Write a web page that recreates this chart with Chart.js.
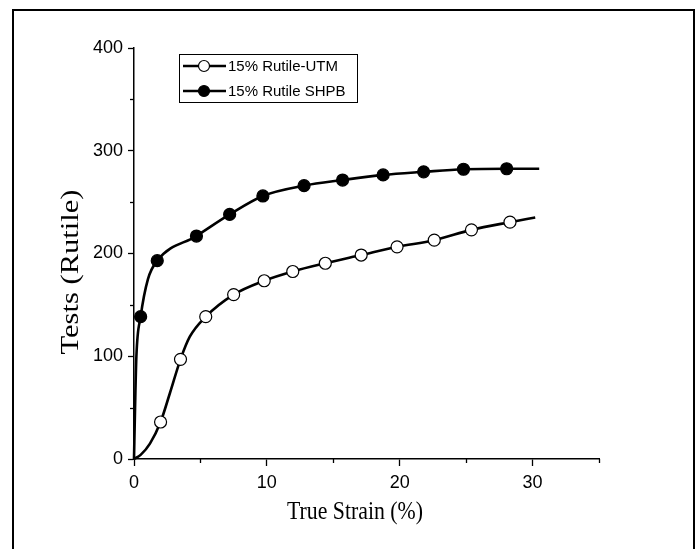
<!DOCTYPE html>
<html>
<head>
<meta charset="utf-8">
<script src="https://cdn.jsdelivr.net/npm/chart.js@4.4.1/dist/chart.umd.min.js"></script>
<style>
  html, body { margin: 0; padding: 0; background: #fff; }
  #wrap { width: 699px; height: 549px; position: relative; }
</style>
</head>
<body>
<div id="wrap"><canvas id="c" width="699" height="549"></canvas></div>
<script>
// ---- data ----
const xTitle = 'True Strain (%)';
const yTitle = 'Tests (Rutile)';
const seriesNames = ['15% Rutile-UTM', '15% Rutile SHPB'];

// UTM curve: strain (%), value, marker shown (1) or curve-only point (0)
const utmX = [0, 0.5, 1.2, 2.0, 2.7, 3.5, 4.2, 5.4, 7.5, 9.8, 11.95, 14.4, 17.1, 19.8, 22.6, 25.4, 28.3, 30.2];
const utmY = [0, 4, 15, 36, 64, 97, 119, 138.5, 160, 173.5, 182.5, 190.5, 198.5, 206.5, 213, 223, 230.5, 235];
const utmMark = [0, 0, 0, 1, 0, 1, 0, 1, 1, 1, 1, 1, 1, 1, 1, 1, 1, 0];

// SHPB curve
const shpbX = [0, 0.08, 0.18, 0.5, 1.05, 1.75, 4.7, 7.2, 9.7, 12.8, 15.7, 18.75, 21.8, 24.8, 28.05, 30.5];
const shpbY = [0, 50, 100, 138.5, 175, 193, 217, 238, 256, 266, 271.5, 276.5, 279.5, 282, 282.5, 282.5];
const shpbMark = [0, 0, 0, 1, 0, 1, 1, 1, 1, 1, 1, 1, 1, 1, 1, 0];

const xMin = 0, xMax = 35, xStep = 5, xLabelEvery = 10;
const yMin = 0, yMax = 400, yStep = 50, yLabelEvery = 100;

const toPts = (xs, ys) => xs.map((x, i) => ({ x: x, y: ys[i] }));
const isMajor = (v, every) => Math.abs(v / every - Math.round(v / every)) < 1e-6;

const minorTicks = {
  id: 'minorTicks',
  afterDraw(chart) {
    const ctx = chart.ctx;
    const xs = chart.scales.x, ys = chart.scales.y;
    ctx.save();
    ctx.strokeStyle = '#000';
    ctx.lineWidth = 1.3;
    xs.ticks.forEach(t => {
      if (!isMajor(t.value, xLabelEvery)) {
        const px = Math.round(xs.getPixelForValue(t.value)) + 0.5;
        ctx.beginPath(); ctx.moveTo(px, ys.bottom); ctx.lineTo(px, ys.bottom + 4); ctx.stroke();
      }
    });
    ys.ticks.forEach(t => {
      if (!isMajor(t.value, yLabelEvery)) {
        const py = Math.round(ys.getPixelForValue(t.value)) + 0.5;
        ctx.beginPath(); ctx.moveTo(xs.left, py); ctx.lineTo(xs.left - 4, py); ctx.stroke();
      }
    });
    ctx.restore();
  }
};

function fitText(ctx, text, len) {
  const w = ctx.measureText(text).width;
  return len / w;
}

const frameAndTitles = {
  id: 'frameAndTitles',
  beforeDraw(chart) {
    const ctx = chart.ctx;
    ctx.save();
    ctx.fillStyle = '#fff';
    ctx.fillRect(0, 0, chart.width, chart.height);
    ctx.strokeStyle = '#000';
    ctx.lineWidth = 2;
    ctx.strokeRect(13, 10, 681, 560);
    ctx.restore();
  },
  afterDraw(chart) {
    const ctx = chart.ctx;
    // axis titles
    ctx.save();
    ctx.fillStyle = '#000';
    ctx.font = '25px "Liberation Serif", "Times New Roman", serif';
    ctx.textAlign = 'center';
    ctx.textBaseline = 'alphabetic';
    ctx.save();
    ctx.translate(355, 519);
    ctx.scale(fitText(ctx, xTitle, 136), 1);
    ctx.fillText(xTitle, 0, 0);
    ctx.restore();
    ctx.save();
    ctx.translate(78, 272);
    ctx.rotate(-Math.PI / 2);
    ctx.scale(fitText(ctx, yTitle, 165), 1);
    ctx.fillText(yTitle, 0, 0);
    ctx.restore();
    ctx.restore();

    // legend
    const L = { x: 179, y: 54, w: 178, h: 48 };
    ctx.save();
    ctx.strokeStyle = '#000';
    ctx.lineWidth = 1;
    ctx.strokeRect(L.x + 0.5, L.y + 0.5, L.w, L.h);
    chart.data.datasets.forEach((ds, i) => {
      const cy = L.y + 12 + i * 25;
      ctx.strokeStyle = ds.borderColor;
      ctx.lineWidth = ds.borderWidth;
      ctx.beginPath(); ctx.moveTo(L.x + 4, cy); ctx.lineTo(L.x + 47, cy); ctx.stroke();
      ctx.beginPath();
      ctx.arc(L.x + 25, cy, 5.5, 0, Math.PI * 2);
      ctx.fillStyle = ds.pointBackgroundColor;
      ctx.fill();
      ctx.lineWidth = 1.2;
      ctx.strokeStyle = '#000';
      ctx.stroke();
      ctx.fillStyle = '#000';
      ctx.font = '15px "Liberation Sans", Arial, sans-serif';
      ctx.textAlign = 'left';
      ctx.textBaseline = 'middle';
      ctx.fillText(ds.label, L.x + 49, cy + 1);
    });
    ctx.restore();
  }
};

new Chart(document.getElementById('c'), {
  type: 'line',
  data: {
    datasets: [
      {
        label: seriesNames[0],
        data: toPts(utmX, utmY),
        borderColor: '#000',
        borderWidth: 2.6,
        pointRadius: utmMark.map(m => m ? 6 : 0),
        pointBackgroundColor: '#fff',
        pointBorderColor: '#000',
        pointBorderWidth: 1.2,
        cubicInterpolationMode: 'monotone',
        fill: false
      },
      {
        label: seriesNames[1],
        data: toPts(shpbX, shpbY),
        borderColor: '#000',
        borderWidth: 2.6,
        pointRadius: shpbMark.map(m => m ? 6 : 0),
        pointBackgroundColor: '#000',
        pointBorderColor: '#000',
        pointBorderWidth: 1.2,
        cubicInterpolationMode: 'monotone',
        fill: false
      }
    ]
  },
  options: {
    responsive: false,
    animation: false,
    devicePixelRatio: 1,
    clip: false,
    layout: { padding: { left: 0, top: 48, right: 100, bottom: 0 } },
    plugins: { legend: { display: false }, tooltip: { enabled: false } },
    scales: {
      x: {
        type: 'linear',
        min: xMin, max: xMax,
        afterFit: s => { s.height = 90; },
        ticks: {
          stepSize: xStep,
          autoSkip: false,
          maxRotation: 0,
          padding: 6,
          color: '#000',
          font: { family: '"Liberation Sans", Arial, sans-serif', size: 18 },
          callback: v => isMajor(v, xLabelEvery) ? String(v) : ''
        },
        grid: {
          drawOnChartArea: false,
          drawTicks: true,
          tickLength: 7,
          tickWidth: 1.3,
          tickColor: ctx => (ctx.tick && isMajor(ctx.tick.value, xLabelEvery)) ? '#000' : 'rgba(0,0,0,0)'
        },
        border: { display: true, color: '#000', width: 1.5 }
      },
      y: {
        type: 'linear',
        min: yMin, max: yMax,
        afterFit: s => { s.width = 134; },
        ticks: {
          stepSize: yStep,
          autoSkip: false,
          padding: 5,
          color: '#000',
          font: { family: '"Liberation Sans", Arial, sans-serif', size: 18 },
          callback: v => isMajor(v, yLabelEvery) ? String(v) : ''
        },
        grid: {
          drawOnChartArea: false,
          drawTicks: true,
          tickLength: 6,
          tickWidth: 1.3,
          tickColor: ctx => (ctx.tick && isMajor(ctx.tick.value, yLabelEvery)) ? '#000' : 'rgba(0,0,0,0)'
        },
        border: { display: true, color: '#000', width: 1.5 }
      }
    }
  },
  plugins: [frameAndTitles, minorTicks]
});
</script>
</body>
</html>
